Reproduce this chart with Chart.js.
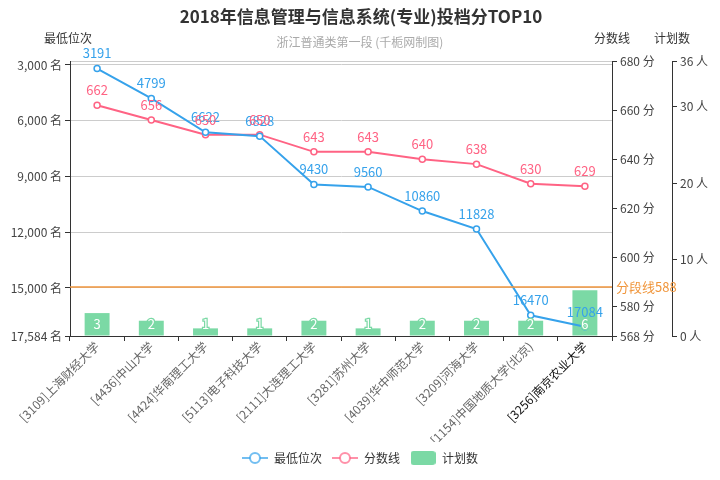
<!DOCTYPE html>
<html>
<head>
<meta charset="utf-8">
<script src="https://cdn.jsdelivr.net/npm/chart.js@4.4.1/dist/chart.umd.min.js"></script>
<style>
  html, body { margin: 0; padding: 0; background: #fff; }
  #wrap { width: 720px; height: 480px; }
</style>
</head>
<body>
<div id="wrap"><canvas id="chart" width="720" height="480"></canvas></div>
<script>
const schools = [
  '[3109]上海财经大学', '[4436]中山大学', '[4424]华南理工大学', '[5113]电子科技大学',
  '[2111]大连理工大学', '[3281]苏州大学', '[4039]华中师范大学', '[3209]河海大学',
  '[1154]中国地质大学(北京)', '[3256]南京农业大学',
];
const minRank = [3191, 4799, 6622, 6828, 9430, 9560, 10860, 11828, 16470, 17084];
const scoreLine = [662, 656, 650, 650, 643, 643, 640, 638, 630, 629];
const planCount = [3, 2, 1, 1, 2, 1, 2, 2, 2, 6];

const rankTicks = [3000, 6000, 9000, 12000, 15000, 17584];
const scoreTicks = [568, 580, 600, 620, 640, 660, 680];
const planTicks = [0, 10, 20, 30, 36];
const cutoffScore = 588;

const BLUE = '#36a2eb';
const PINK = '#ff6384';
const GREEN = '#7bd9a5';
const ORANGE = '#f0963c';
const AXIS = '#333';

Chart.defaults.font.family = '"Noto Sans CJK SC", "Noto Sans", sans-serif';
Chart.defaults.font.size = 12;
Chart.defaults.color = '#444';

// legend icons: line with hollow circle, and rounded rect
function lineIcon(color) {
  const c = document.createElement('canvas');
  c.width = 26; c.height = 14;
  const g = c.getContext('2d');
  g.strokeStyle = color; g.lineWidth = 2;
  g.beginPath(); g.moveTo(0, 7); g.lineTo(26, 7); g.stroke();
  g.fillStyle = '#fff';
  g.beginPath(); g.arc(13, 7, 5, 0, Math.PI * 2); g.fill(); g.stroke();
  return c;
}
function boxIcon(color) {
  const c = document.createElement('canvas');
  c.width = 25; c.height = 14;
  const g = c.getContext('2d');
  g.fillStyle = color;
  g.beginPath(); g.roundRect(0, 0, 25, 14, 3); g.fill();
  return c;
}
const legendIcons = [lineIcon('rgba(54,162,235,0.7)'), lineIcon('rgba(255,99,132,0.7)'), boxIcon(GREEN)];

function fixTicks(values) {
  return (scale) => { scale.ticks = values.map((v) => ({ value: v })); };
}

// header texts, axis names, cut-off line, value labels
const decorations = {
  id: 'decorations',
  afterDatasetsDraw(chart) {
    const { ctx, chartArea, scales } = chart;
    ctx.save();

    // cut-off mark line on score axis
    const yCut = scales.y1.getPixelForValue(cutoffScore);
    ctx.strokeStyle = ORANGE;
    ctx.lineWidth = 1.5;
    ctx.beginPath();
    ctx.moveTo(chartArea.left, yCut);
    ctx.lineTo(chartArea.right, yCut);
    ctx.stroke();
    ctx.fillStyle = ORANGE;
    ctx.font = '13px "Noto Sans CJK SC", sans-serif';
    ctx.textAlign = 'left';
    ctx.textBaseline = 'middle';
    ctx.fillText('分段线' + cutoffScore, chartArea.right + 4, yCut);

    // bar labels (inside bottom)
    ctx.textAlign = 'center';
    const barMeta = chart.getDatasetMeta(2);
    barMeta.data.forEach((el, i) => {
      ctx.lineWidth = 2.5;
      ctx.strokeStyle = GREEN;
      ctx.strokeText(String(planCount[i]), el.x, el.base - 11);
      ctx.fillStyle = '#fff';
      ctx.fillText(String(planCount[i]), el.x, el.base - 11);
    });

    // line labels
    [[0, minRank, BLUE], [1, scoreLine, PINK]].forEach(([idx, values, color]) => {
      const meta = chart.getDatasetMeta(idx);
      ctx.fillStyle = color;
      meta.data.forEach((pt, i) => {
        ctx.fillText(String(values[i]), pt.x, pt.y - 15);
      });
    });

    // title and subtitle
    ctx.fillStyle = '#333';
    ctx.font = 'bold 17px "Noto Sans CJK SC", sans-serif';
    ctx.fillText('2018年信息管理与信息系统(专业)投档分TOP10', 361, 17);
    ctx.fillStyle = '#aaa';
    ctx.font = '12px "Noto Sans CJK SC", sans-serif';
    ctx.fillText('浙江普通类第一段 (千栀网制图)', 360, 42);

    // axis names
    ctx.fillStyle = '#333';
    ctx.font = '12px "Noto Sans CJK SC", sans-serif';
    ctx.fillText('最低位次', 68, 38);
    ctx.fillText('分数线', scales.y1.left, 38);
    ctx.fillText('计划数', scales.y2.left, 38);
    ctx.restore();
  },
};

new Chart(document.getElementById('chart'), {
  type: 'bar',
  data: {
    labels: schools,
    datasets: [
      {
        type: 'line',
        label: '最低位次',
        data: minRank,
        yAxisID: 'y',
        borderColor: BLUE,
        backgroundColor: '#fff',
        borderWidth: 2,
        pointRadius: 3,
        pointBorderWidth: 1.5,
        pointBackgroundColor: '#fff',
        pointBorderColor: BLUE,
        tension: 0,
        order: 1,
      },
      {
        type: 'line',
        label: '分数线',
        data: scoreLine,
        yAxisID: 'y1',
        borderColor: PINK,
        backgroundColor: '#fff',
        borderWidth: 2,
        pointRadius: 3,
        pointBorderWidth: 1.5,
        pointBackgroundColor: '#fff',
        pointBorderColor: PINK,
        tension: 0,
        order: 2,
      },
      {
        label: '计划数',
        data: planCount,
        yAxisID: 'y2',
        backgroundColor: GREEN,
        categoryPercentage: 1,
        barPercentage: 0.46,
        order: 3,
      },
    ],
  },
  options: {
    responsive: false,
    animation: false,
    layout: { padding: { top: 61, left: 0, right: 0, bottom: 6 } },
    scales: {
      x: {
        offset: true,
        grid: { offset: true, drawOnChartArea: false, tickLength: 5, tickColor: AXIS },
        border: { display: true, color: AXIS },
        ticks: {
          maxRotation: 45,
          minRotation: 45,
          autoSkip: false,
          padding: -2,
          color: (ctx) => (ctx.index === 9 ? '#111' : '#666'),
          font: { size: 12 },
        },
        afterFit: (scale) => { scale.height = 106; },
      },
      y: {
        position: 'left',
        reverse: true,
        min: 2785,
        max: 17584,
        afterBuildTicks: fixTicks(rankTicks),
        grid: {
          color: (ctx) => (ctx.tick && ctx.tick.value === 17584 ? 'rgba(0,0,0,0)' : '#ccc'),
          tickLength: 5,
          tickColor: AXIS,
        },
        border: { display: true, color: AXIS },
        ticks: {
          padding: 3,
          color: '#444',
          callback: (v) => Number(v).toLocaleString('en-US') + ' 名',
        },
        afterFit: (scale) => { scale.width = 70; },
      },
      y1: {
        position: 'right',
        min: 568,
        max: 680,
        afterBuildTicks: fixTicks(scoreTicks),
        grid: {
          color: (ctx) => (ctx.tick && ctx.tick.value === 680 ? '#ccc' : 'rgba(0,0,0,0)'),
          tickLength: 5,
          tickColor: AXIS,
        },
        border: { display: true, color: AXIS },
        ticks: { padding: 3, color: '#444', callback: (v) => v + ' 分' },
        afterFit: (scale) => { scale.width = 60; },
      },
      y2: {
        position: 'right',
        min: 0,
        max: 36,
        afterBuildTicks: fixTicks(planTicks),
        grid: { drawOnChartArea: false, tickLength: 5, tickColor: AXIS },
        border: { display: true, color: AXIS },
        ticks: { padding: 3, color: '#444', callback: (v) => v + ' 人' },
        afterFit: (scale) => { scale.width = 48; },
      },
    },
    plugins: {
      title: { display: false },
      tooltip: { enabled: false },
      legend: {
        position: 'bottom',
        labels: {
          usePointStyle: true,
          pointStyleWidth: 26,
          boxHeight: 12,
          padding: 10,
          color: '#333',
          font: { size: 12 },
          generateLabels: (chart) =>
            chart.data.datasets.map((ds, i) => ({
              text: ds.label,
              datasetIndex: i,
              pointStyle: legendIcons[i],
              fillStyle: 'rgba(0,0,0,0)',
              strokeStyle: 'rgba(0,0,0,0)',
              lineWidth: 0,
              hidden: false,
              fontColor: '#333',
            })),
        },
      },
    },
  },
  plugins: [decorations],
});
</script>
</body>
</html>
